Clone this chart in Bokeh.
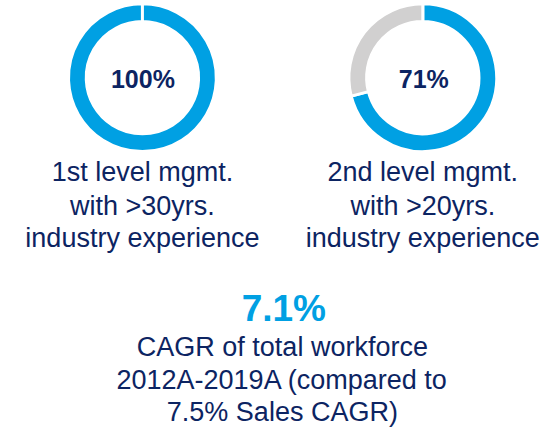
import math
from bokeh.plotting import figure
from bokeh.models import Range1d
from bokeh.core.properties import value
from bokeh.embed import file_html
from bokeh.resources import INLINE

# ---- data ----
categories = ["1st level mgmt.", "2nd level mgmt."]
label_lines = [
    ["1st level mgmt.", "with >30yrs.", "industry experience"],
    ["2nd level mgmt.", "with >20yrs.", "industry experience"],
]
shares = [100, 71]            # percent of management meeting the criterion
share_labels = ["100%", "71%"]
cagr_value = "7.1%"
cagr_lines = ["CAGR of total workforce", "2012A-2019A (compared to", "7.5% Sales CAGR)"]

# ---- style / layout ----
BLUE = "#00a0e3"
GRAY = "#d1d0d0"
NAVY = "#0c2462"
FONT = value("Liberation Sans")

W, H = 545, 428
p = figure(width=W, height=H, x_range=Range1d(0, 553), y_range=Range1d(-438, 0),
           output_backend="svg", toolbar_location=None, min_border=0,
           x_axis_location=None, y_axis_location=None)
p.grid.visible = False
p.outline_line_color = None
p.background_fill_color = "white"
p.border_fill_color = "white"

centers_x = [144, 428.5]
center_y = -79
R_OUT, R_IN = 75, 57   # white 3px stroke trims 1.5px on each side

for cx, share in zip(centers_x, shares):
    start = math.pi / 2
    frac = share / 100.0
    if frac >= 1:
        end = start - 2 * math.pi + 1e-4
    else:
        end = start - 2 * math.pi * frac
    p.annular_wedge(x=[cx], y=[center_y], inner_radius=R_IN, outer_radius=R_OUT,
                    start_angle=start, end_angle=end, direction="clock",
                    fill_color=BLUE, line_color="white", line_width=3)
    if frac < 1:
        p.annular_wedge(x=[cx], y=[center_y], inner_radius=R_IN, outer_radius=R_OUT,
                        start_angle=end, end_angle=start - 2 * math.pi, direction="clock",
                        fill_color=GRAY, line_color="white", line_width=3)

p.text(x=[144.5, 429.5], y=[-80, -80], text=share_labels, text_font=FONT,
       text_font_style="bold", text_font_size="25px", text_color=NAVY,
       text_align="center", text_baseline="middle")

label_mid = [176, 210, 243.5]
for cx, lines in zip(centers_x, label_lines):
    p.text(x=[cx] * len(lines), y=[-m for m in label_mid], text=lines,
           text_font=FONT, text_font_size="27px", text_color=NAVY,
           text_align="center", text_baseline="middle")

p.text(x=[287.5], y=[-315], text=[cagr_value], text_font=FONT,
       text_font_style="bold", text_font_size="37px", text_color=BLUE,
       text_align="center", text_baseline="middle")

cagr_mid = [354.5, 388, 421]
p.text(x=[286] * len(cagr_lines), y=[-m for m in cagr_mid], text=cagr_lines,
       text_font=FONT, text_font_size="27px", text_color=NAVY,
       text_align="center", text_baseline="middle")

open("out.html", "w").write(file_html(p, INLINE))
